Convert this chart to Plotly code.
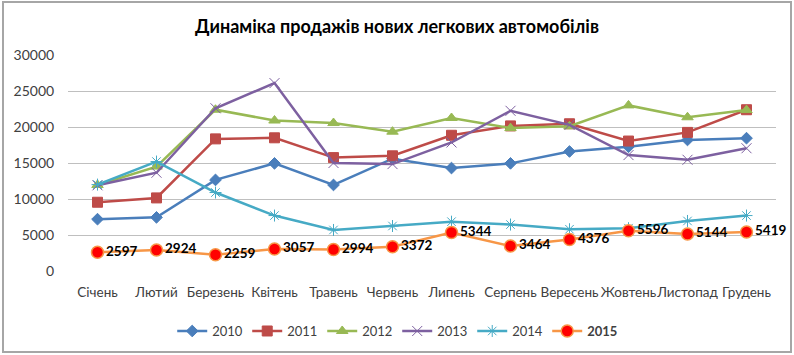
import plotly.graph_objects as go

months = ["Січень", "Лютий", "Березень", "Квітень", "Травень", "Червень",
          "Липень", "Серпень", "Вересень", "Жовтень", "Листопад", "Грудень"]

s2010 = [7200, 7450, 12650, 14950, 11950, 15600, 14300, 14950, 16600, 17250, 18200, 18450]
s2011 = [9550, 10150, 18350, 18500, 15750, 16000, 18850, 20150, 20450, 18050, 19250, 22400]
s2012 = [11950, 14500, 22400, 20900, 20550, 19350, 21250, 19850, 20100, 23000, 21350, 22350]
s2013 = [11900, 13650, 22600, 26100, 15000, 14850, 17850, 22250, 20300, 16100, 15450, 17050]
s2014 = [12000, 15200, 10900, 7700, 5700, 6250, 6850, 6450, 5800, 5950, 6950, 7700]
s2015 = [2597, 2924, 2259, 3057, 2994, 3372, 5344, 3464, 4376, 5596, 5144, 5419]

y_ticks = [0, 5000, 10000, 15000, 20000, 25000, 30000]

FONT = "Lato"

fig = go.Figure()

def add(name, vals, color, symbol, size, mline=None, mcolor=None):
    fig.add_trace(go.Scatter(
        x=months, y=vals, name=name, mode="lines+markers",
        line=dict(color=color, width=2.5),
        marker=dict(symbol=symbol, size=size, color=mcolor or color,
                    line=dict(color=mline or color, width=1)),
    ))

add("2010", s2010, "#4A7EBB", "diamond", 9)
add("2011", s2011, "#BE4B48", "square", 10)
add("2012", s2012, "#98B954", "triangle-up", 10)
add("2013", s2013, "#7D60A0", "x-thin-open", 10)
add("2014", s2014, "#46AAC5", "asterisk-open", 10)

fig.add_trace(go.Scatter(
    x=months, y=s2015, name="<b>2015</b>", mode="lines+markers+text",
    line=dict(color="#F79646", width=2.5),
    marker=dict(symbol="circle", size=12, color="#FF0000",
                line=dict(color="#F79646", width=1.5)),
    text=[str(v) for v in s2015], textposition="middle right",
    textfont=dict(family=FONT, size=13.5, color="#000000", weight="bold"),
    cliponaxis=False,
))

fig.update_layout(
    width=794, height=355,
    margin=dict(l=68, r=18, t=55, b=84, autoexpand=False),
    paper_bgcolor="white", plot_bgcolor="white",
    font=dict(family=FONT, size=12, color="#404040"),
    title=dict(text="<b>Динаміка продажів нових легкових автомобілів</b>",
               x=0.5, xanchor="center", y=0.925, yanchor="middle",
               font=dict(family=FONT, size=18, color="#000000")),
    showlegend=True,
    legend=dict(orientation="h", x=0.465, xanchor="center",
                y=-0.278, yanchor="middle",
                font=dict(family=FONT, size=13, color="#404040"),
                entrywidth=30, entrywidthmode="pixels",
                itemwidth=30),
    xaxis=dict(showgrid=False, showline=False, zeroline=False,
               ticks="outside", ticklen=9, tickcolor="rgba(0,0,0,0)",
               tickangle=0,
               tickfont=dict(family=FONT, size=13.5, color="#404040"),
               range=[-0.5, 11.5]),
    yaxis=dict(range=[0, 30000], tickvals=y_ticks, tickformat="d",
               showgrid=True, gridcolor="#BFBFBF", gridwidth=1,
               zeroline=False, showline=False,
               ticks="outside", ticklen=10, tickcolor="rgba(0,0,0,0)",
               tickfont=dict(family=FONT, size=14, color="#404040")),
    shapes=[dict(type="rect", xref="paper", yref="paper",
                 x0=(3 - 68) / 708, x1=(791 - 68) / 708,
                 y0=(271 - 352) / 216, y1=(271 - 2) / 216,
                 line=dict(color="#A6A6A6", width=2), layer="below")],
)

fig.write_html("out.html", config={"displayModeBar": False},
               post_script="document.body.style.margin='0';")
